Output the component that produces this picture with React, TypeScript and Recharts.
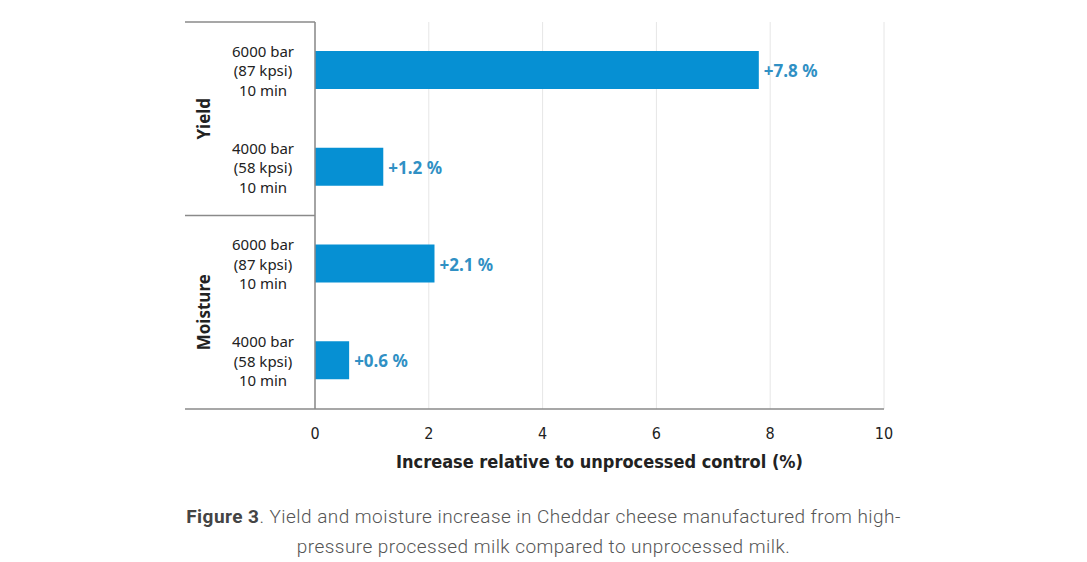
import React from 'react';
import { BarChart, Bar, XAxis, YAxis, CartesianGrid, LabelList } from 'recharts';

const groups = ['Yield', 'Yield', 'Moisture', 'Moisture'];
const pressures = ['6000 bar', '4000 bar', '6000 bar', '4000 bar'];
const kpsis = ['(87 kpsi)', '(58 kpsi)', '(87 kpsi)', '(58 kpsi)'];
const durations = ['10 min', '10 min', '10 min', '10 min'];
const values = [7.8, 1.2, 2.1, 0.6];
const valueLabels = ['+7.8 %', '+1.2 %', '+2.1 %', '+0.6 %'];
const xTicks = [0, 2, 4, 6, 8, 10];

const data = values.map((v, i) => ({
  key: `${groups[i]} ${pressures[i]}`,
  value: v,
  label: valueLabels[i],
  idx: i,
}));

const CHART_W = 1087;
const CHART_H = 480;
const MARGIN = { top: 22, right: 203, bottom: 0, left: 0 };
const X_AXIS_H = 71;
const Y_AXIS_W = 315;
const PLOT_H = CHART_H - MARGIN.top - MARGIN.bottom - X_AXIS_H;
const BAND = PLOT_H / data.length;

const AXIS_COLOR = '#8a8a8a';
const BAR_COLOR = '#0690d3';
const LABEL_COLOR = '#3090c4';
const TEXT_COLOR = '#222';
const SANS = "'Noto Sans', 'Open Sans', sans-serif";
const NARROW = "'Liberation Sans Narrow', 'DejaVu Sans Condensed', sans-serif";

const YTick = (props: any) => {
  const { x, y, index } = props;
  const i = index;
  const lines = [pressures[i], kpsis[i], durations[i]];
  const cx = x - 52;
  const groupStart = i === 0 || groups[i] !== groups[i - 1];
  const groupEnd = i === data.length - 1 || groups[i] !== groups[i + 1];
  return (
    <g>
      {lines.map((t, k) => (
        <text
          key={k}
          x={cx}
          y={y + (k - 1) * 19.5}
          textAnchor="middle"
          dominantBaseline="central"
          fontFamily={SANS}
          fontSize={15}
          fill={TEXT_COLOR}
        >
          {t}
        </text>
      ))}
      {i === 0 && (
        <line x1={x - 130} x2={x} y1={y - BAND / 2} y2={y - BAND / 2} stroke={AXIS_COLOR} strokeWidth={1.5} />
      )}
      {groupEnd && (
        <line x1={x - 130} x2={x} y1={y + BAND / 2} y2={y + BAND / 2} stroke={AXIS_COLOR} strokeWidth={1.5} />
      )}
      {groupStart && (
        <text
          x={x - 112}
          y={y + BAND / 2}
          transform={`rotate(-90, ${x - 112}, ${y + BAND / 2})`}
          textAnchor="middle"
          dominantBaseline="central"
          fontFamily={SANS}
          fontWeight="bold"
          fontSize={17}
          fill={TEXT_COLOR}
        >
          {groups[i]}
        </text>
      )}
    </g>
  );
};

const XTick = (props: any) => {
  const { x, y, payload } = props;
  return (
    <text x={x} y={y + 30} textAnchor="middle" fontFamily={NARROW} fontSize={16} fill={TEXT_COLOR}>
      {payload.value}
    </text>
  );
};

const XLabel = (props: any) => {
  const { viewBox } = props;
  const { x, y, width } = viewBox;
  return (
    <text
      x={x + width / 2}
      y={y + 59}
      textAnchor="middle"
      fontFamily={NARROW}
      fontWeight="bold"
      fontSize={18}
      fill={TEXT_COLOR}
    >
      Increase relative to unprocessed control (%)
    </text>
  );
};

export default function App() {
  return (
    <div style={{ position: 'absolute', left: 0, top: 0, width: 1087, height: 562, background: '#fff' }}>
      <BarChart width={CHART_W} height={CHART_H} data={data} layout="vertical" margin={MARGIN}>
        <CartesianGrid horizontal={false} stroke="#e6e6e6" strokeWidth={1} />
        <XAxis
          type="number"
          domain={[0, 10]}
          ticks={xTicks}
          height={X_AXIS_H}
          axisLine={{ stroke: AXIS_COLOR, strokeWidth: 1.5 }}
          tickLine={false}
          tickSize={0}
          tickMargin={0}
          tick={<XTick />}
          label={<XLabel />}
        />
        <YAxis
          type="category"
          dataKey="key"
          width={Y_AXIS_W}
          axisLine={{ stroke: AXIS_COLOR, strokeWidth: 1.5 }}
          tickLine={false}
          tickSize={0}
          tickMargin={0}
          tick={<YTick />}
          interval={0}
        />
        <Bar dataKey="value" fill={BAR_COLOR} barSize={38} isAnimationActive={false}>
          <LabelList
            dataKey="label"
            position="right"
            offset={5}
            fill={LABEL_COLOR}
            fontFamily={SANS}
            fontWeight="bold"
            fontSize={17}
            dy={1}
          />
        </Bar>
      </BarChart>
      <div
        style={{
          position: 'absolute',
          left: 0,
          top: 502,
          width: 1087,
          textAlign: 'center',
          fontFamily: "Roboto, 'Noto Sans', sans-serif",
          fontWeight: 300,
          fontSize: 19,
          letterSpacing: '0.45px',
          lineHeight: '29.5px',
          color: '#555',
        }}
      >
        <span style={{ fontWeight: 700, color: '#444' }}>Figure 3</span>. Yield and moisture increase in Cheddar cheese manufactured from high-
        <br />
        pressure processed milk compared to unprocessed milk.
      </div>
    </div>
  );
}
